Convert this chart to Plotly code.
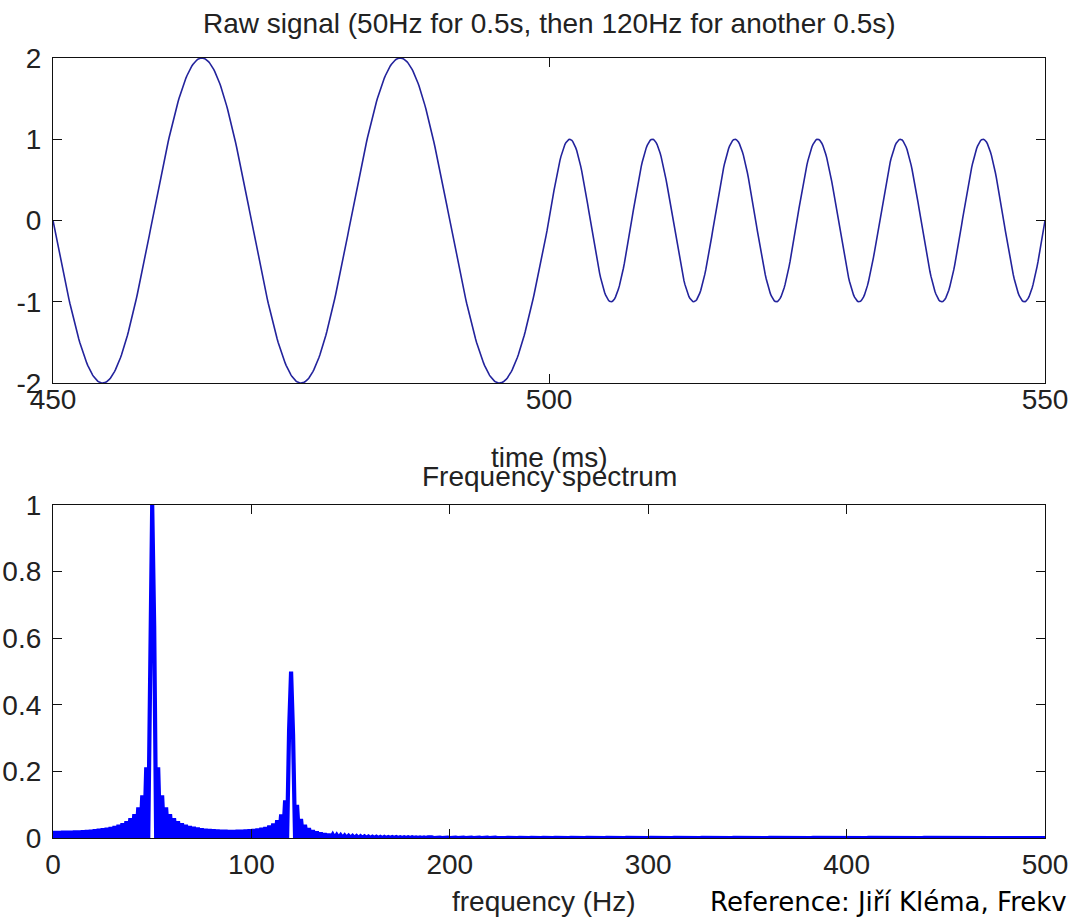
import numpy as np
import plotly.graph_objects as go
from plotly.subplots import make_subplots

# Signal definition: 50 Hz for the first half-second, 120 Hz for the second
SAMPLE_RATE_HZ = 10000
DURATION_S = 1.0
SWITCH_TIME_S = 0.5
FREQS_HZ = [50, 120]
AMPLITUDES = [2.0, 1.0]

# Thin white notches under the two spectral peaks (frequency, top of notch)
NOTCH_FREQS_HZ = [50, 120]
NOTCH_HEIGHTS = [0.30, 0.15]

# Axis windows and tick values
TIME_WINDOW_MS = [450, 550]
TIME_TICKS = [450, 500, 550]
SIGNAL_TICKS = [-2, -1, 0, 1, 2]
SIGNAL_TICK_TEXT = ["-2", "-1", "0", "1", "2"]
FREQ_WINDOW_HZ = [0, 500]
FREQ_TICKS = [0, 100, 200, 300, 400, 500]
MAG_TICKS = [0, 0.2, 0.4, 0.6, 0.8, 1]
MAG_TICK_TEXT = ["0", "0.2", "0.4", "0.6", "0.8", "1"]

n = int(SAMPLE_RATE_HZ * DURATION_S)
t = np.arange(n) / SAMPLE_RATE_HZ
signal = np.where(
    t < SWITCH_TIME_S,
    AMPLITUDES[0] * np.sin(2 * np.pi * FREQS_HZ[0] * t),
    AMPLITUDES[1] * np.sin(2 * np.pi * FREQS_HZ[1] * t),
)

t_ms = t * 1000.0
win = (t_ms >= TIME_WINDOW_MS[0]) & (t_ms <= TIME_WINDOW_MS[1])

spectrum = np.abs(np.fft.fft(signal))
freqs = np.fft.fftfreq(n, d=1.0 / SAMPLE_RATE_HZ)
keep = (freqs >= FREQ_WINDOW_HZ[0]) & (freqs <= FREQ_WINDOW_HZ[1])
spec_f = freqs[keep]
spec_m = spectrum[keep] / spectrum[keep].max()

fig = make_subplots(rows=2, cols=1, vertical_spacing=0.0)

fig.add_trace(
    go.Scatter(x=t_ms[win], y=signal[win], mode="lines",
               line=dict(color="#23239c", width=1.6), hoverinfo="skip"),
    row=1, col=1,
)
# dense magnitude trace: the 1 Hz zig-zag merges into a solid blue body
fig.add_trace(
    go.Scatter(x=spec_f, y=spec_m, mode="lines",
               line=dict(color="#0000ff", width=4.2), hoverinfo="skip"),
    row=2, col=1,
)
fig.add_trace(
    go.Bar(x=NOTCH_FREQS_HZ, y=NOTCH_HEIGHTS, width=0.8,
           marker=dict(color="white", line=dict(width=0)), hoverinfo="skip"),
    row=2, col=1,
)

FONT = "Liberation Sans, Arial, sans-serif"
TICK_FONT = dict(family=FONT, size=28, color="#222222")

axis_common = dict(
    showline=True, linecolor="#111111", linewidth=1.2, mirror="ticks",
    ticks="inside", ticklen=9, tickwidth=1.2, tickcolor="#111111",
    showgrid=False, zeroline=False, tickfont=TICK_FONT, automargin=False,
)

# pixel layout: plot area spans y 58..838 (780 px), x 53..1045
fig.update_layout(
    width=1072, height=919,
    margin=dict(l=53, r=27, t=58, b=81, autoexpand=False),
    paper_bgcolor="white", plot_bgcolor="white",
    showlegend=False, bargap=0,
    xaxis=dict(domain=[0, 1], range=TIME_WINDOW_MS, tickvals=TIME_TICKS,
               anchor="y", ticklabelstandoff=-9, **axis_common),
    yaxis=dict(domain=[0.5833, 1.0], range=[-2, 2], tickvals=SIGNAL_TICKS,
               ticktext=SIGNAL_TICK_TEXT, anchor="x", ticklabelstandoff=5,
               **axis_common),
    xaxis2=dict(domain=[0, 1], range=FREQ_WINDOW_HZ, tickvals=FREQ_TICKS,
                anchor="y2", ticklabelstandoff=1, **axis_common),
    yaxis2=dict(domain=[0.0, 0.4269], range=[0, 1], tickvals=MAG_TICKS,
                ticktext=MAG_TICK_TEXT, anchor="x2", ticklabelstandoff=5,
                **axis_common),
)

TEXT_FONT = dict(family=FONT, size=28, color="#222222")
annotations = [
    dict(text="Raw signal (50Hz for 0.5s, then 120Hz for another 0.5s)",
         x=0.5, y=1.0, yshift=35, yanchor="middle"),
    dict(text="time (ms)", x=0.5, y=0.4884, yanchor="middle"),
    dict(text="Frequency spectrum", x=0.5, y=0.4641, yanchor="middle"),
    dict(text="frequency (Hz)", x=0.495, y=-0.0820, yanchor="middle"),
]
for a in annotations:
    fig.add_annotation(xref="paper", yref="paper", showarrow=False,
                       xanchor="center", font=TEXT_FONT, **a)

fig.add_annotation(
    text="Reference: Jiří Kléma, Frekv", xref="paper", yref="paper",
    x=0.6603, y=-0.0825, xanchor="left", yanchor="middle", showarrow=False,
    font=dict(family="DejaVu Sans, Verdana, sans-serif", size=26, color="#000000"),
)

fig.write_html("out.html")
